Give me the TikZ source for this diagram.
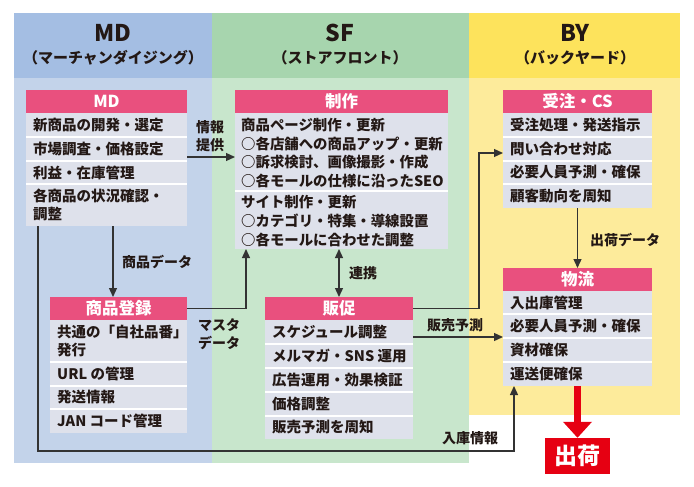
\documentclass[tikz,border=0pt]{standalone}
\usepackage{fontspec}
\setmainfont{Noto Sans CJK JP}
\usetikzlibrary{arrows.meta}
\definecolor{mdtop}{HTML}{A4BEE3}
\definecolor{mdlow}{HTML}{C3D3EA}
\definecolor{sftop}{HTML}{A7D5AE}
\definecolor{sflow}{HTML}{C8E6CC}
\definecolor{bytop}{HTML}{FDE35C}
\definecolor{bylow}{HTML}{FDEB9B}
\definecolor{pinkhd}{HTML}{E9507E}
\definecolor{itemgray}{HTML}{DEE1EB}
\definecolor{ink}{HTML}{231815}
\definecolor{shred}{HTML}{E60012}
\definecolor{linec}{HTML}{333333}
\begin{document}
\begin{tikzpicture}[x=1pt,y=-1pt,
 hd/.style={fill=pinkhd, text=white, anchor=north west, inner sep=0pt, outer sep=0pt, minimum height=23pt, font=\fontsize{16.5}{16.5}\selectfont\bfseries},
 bd/.style={fill=itemgray, anchor=north west, inner sep=0pt, outer sep=0pt},
 it/.style={anchor=west, inner sep=0pt, text=ink, align=left, font=\fontsize{14.5}{18.5}\selectfont\bfseries},
 lbl/.style={inner sep=0pt, text=ink, align=left, font=\fontsize{14}{18}\selectfont\bfseries},
 sepl/.style={white, line width=1.5pt},
 arr/.style={draw=linec, line width=1.3pt, -{Triangle[length=9pt,width=8pt]}},
 arrb/.style={draw=linec, line width=1.3pt, {Triangle[length=9pt,width=8pt]}-{Triangle[length=9pt,width=8pt]}},
 coltitle/.style={text=ink, font=\fontsize{23}{23}\selectfont\bfseries},
 colsub/.style={text=ink, font=\fontsize{15}{15}\selectfont\bfseries},
]
\useasboundingbox (0,0) rectangle (694,487);
% columns
\fill[mdtop] (14,13) rectangle (212,78);
\fill[mdlow] (14,78) rectangle (212,463);
\fill[sftop] (212,13) rectangle (469,78);
\fill[sflow] (212,78) rectangle (469,463);
\fill[bytop] (469,13) rectangle (680,78);
\fill[bylow] (469,78) rectangle (680,415);
\node[coltitle] (mdt) at (113,33) {MD};
\node[colsub] (mds) at (113,58) {（マーチャンダイジング）};
\node[coltitle] (sft) at (340,33) {SF};
\node[colsub] (sfs) at (340,58) {（ストアフロント）};
\node[coltitle] (byt) at (575,33) {BY};
\node[colsub] (bys) at (575,58) {（バックヤード）};

% MD box
\node[hd, minimum width=161pt] (mdhead) at (26,90) {MD};
\node[bd, minimum width=161pt, minimum height=113pt] (mdbody) at (26,113) {};
\draw[sepl] (26,137) -- (187,137) (26,161) -- (187,161) (26,184) -- (187,184);
\node[it] (md1) at (33,125) {新商品の開発・選定};
\node[it] (md2) at (33,149) {市場調査・価格設定};
\node[it] (md3) at (33,172.5) {利益・在庫管理};
\node[it] (md4) at (33,205) {各商品の状況確認・\\調整};

% 商品登録
\node[hd, minimum width=137pt] (sthead) at (50,297) {商品登録};
\node[bd, minimum width=137pt, minimum height=113pt] (stbody) at (50,320) {};
\draw[sepl] (50,362) -- (187,362) (50,386) -- (187,386) (50,409) -- (187,409);
\node[it] (st1) at (57,341) {共通の「自社品番」\\発行};
\node[it] (st2) at (57,374) {URL の管理};
\node[it] (st3) at (57,397.5) {発送情報};
\node[it] (st4) at (57,421) {JAN コード管理};

% 制作
\node[hd, minimum width=213pt] (sehead) at (235,90) {制作};
\node[bd, minimum width=213pt, minimum height=136pt] (sebody) at (235,113) {};
\draw[sepl] (235,191) -- (448,191);
\node[it, font=\fontsize{14.4}{18.7}\selectfont\bfseries] (se1) at (241,153) {商品ページ制作・更新\\○各店舗への商品アップ・更新\\○訴求検討、画像撮影・作成\\○各モールの仕様に沿ったSEO};
\node[it, font=\fontsize{14.4}{18.7}\selectfont\bfseries] (se2) at (241,221) {サイト制作・更新\\○カテゴリ・特集・導線設置\\○各モールに合わせた調整};

% 販促
\node[hd, minimum width=148pt] (hshead) at (265,297) {販促};
\node[bd, minimum width=148pt, minimum height=119pt] (hsbody) at (265,320) {};
\draw[sepl] (265,344) -- (413,344) (265,368) -- (413,368) (265,392) -- (413,392) (265,416) -- (413,416);
\node[it] (hs1) at (272,332) {スケジュール調整};
\node[it] (hs2) at (272,356) {メルマガ・SNS 運用};
\node[it] (hs3) at (272,380) {広告運用・効果検証};
\node[it] (hs4) at (272,404) {価格調整};
\node[it] (hs5) at (272,427.5) {販売予測を周知};

% 受注・CS
\node[hd, minimum width=149pt] (juhead) at (503,90) {受注・CS};
\node[bd, minimum width=149pt, minimum height=95pt] (jubody) at (503,113) {};
\draw[sepl] (503,137) -- (652,137) (503,161) -- (652,161) (503,184) -- (652,184);
\node[it] (ju1) at (510,125) {受注処理・発送指示};
\node[it] (ju2) at (510,149) {問い合わせ対応};
\node[it] (ju3) at (510,172.5) {必要人員予測・確保};
\node[it] (ju4) at (510,196) {顧客動向を周知};

% 物流
\node[hd, minimum width=149pt] (bhead) at (503,268) {物流};
\node[bd, minimum width=149pt, minimum height=95pt] (bbody) at (503,291) {};
\draw[sepl] (503,314) -- (652,314) (503,338) -- (652,338) (503,362) -- (652,362);
\node[it] (b1t) at (510,302.5) {入出庫管理};
\node[it] (b2t) at (510,326) {必要人員予測・確保};
\node[it] (b3t) at (510,350) {資材確保};
\node[it] (b4t) at (510,374) {運送便確保};

% 出荷
\node[fill=shred, text=white, inner sep=0pt, minimum width=65pt, minimum height=36pt, font=\fontsize{23}{23}\selectfont\bfseries] (ship) at (577.5,456) {出荷};

% connectors
\coordinate (m1) at ([yshift=-44pt]mdbody.north east);
\draw[arr] (m1) -- (m1 -| sebody.west);
\coordinate (m2) at ([xshift=87pt]mdbody.south west);
\draw[arr] (m2) -- (m2 |- sthead.north);
\coordinate (m3) at ([xshift=12pt]mdbody.south west);
\coordinate (low) at (0,451);
\coordinate (b1) at ([xshift=11pt]bbody.south west);
\draw[arr] (m3) -- (m3 |- low) -| (b1);
\coordinate (s1) at ([xshift=11pt]sebody.south west);
\draw[arr] (sthead.east) -| (s1);
\draw[arrb] (hshead.north) -- (hshead.north |- sebody.south);
\coordinate (bx) at (479,0);
\coordinate (j1) at ([yshift=-40pt]jubody.north west);
\draw[arr] (hshead.east) -- (hshead.east -| bx) |- (j1);
\coordinate (h2) at ([yshift=-17pt]hsbody.north east);
\draw[arr] (h2) -- (h2 -| bbody.west);
\draw[arr] (jubody.south) -- (bhead.north);
\draw[line width=7pt, draw=shred, -{Triangle[length=16pt,width=28pt]}] (bbody.south) -- (ship.north);

% labels
\node[lbl, anchor=west] (l1) at (196,136) {情報\\提供};
\node[lbl, anchor=west] (l2) at (122,262) {商品データ};
\node[lbl, align=center] (l3) at (219,334) {マスタ\\データ};
\node[lbl, anchor=west] (l4) at (349,273) {連携};
\node[lbl] (l5) at (455,325) {販売予測};
\node[lbl] (l6) at (470,438) {入庫情報};
\node[lbl, anchor=west] (l7) at (590,240) {出荷データ};
\end{tikzpicture}
\end{document}
